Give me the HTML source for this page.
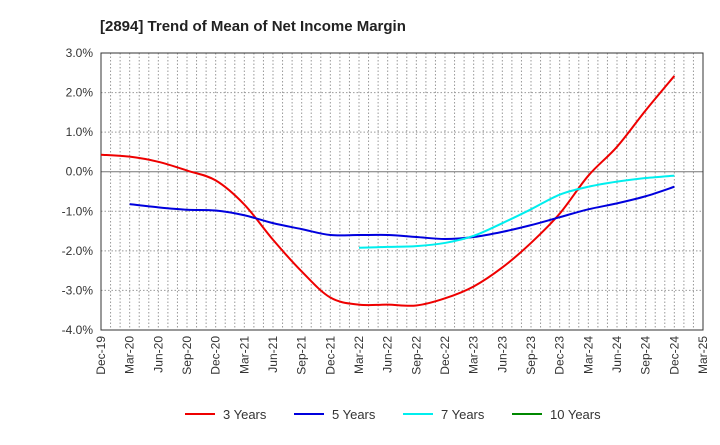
<!DOCTYPE html>
<html><head><meta charset="utf-8"><style>
body{margin:0;background:#fff;font-family:"Liberation Sans",sans-serif}
svg text{font-family:"Liberation Sans",sans-serif}
</style></head><body>
<svg id="c" width="720" height="440" xmlns="http://www.w3.org/2000/svg">
<text x="100" y="31" font-size="15" font-weight="bold" fill="#222">[2894]  Trend of Mean of Net Income Margin</text>
<g id="grid"></g><g id="axes"></g><g id="series"></g><g id="legend"></g>
</svg>
<script>
const xLabels=["Dec-19","Mar-20","Jun-20","Sep-20","Dec-20","Mar-21","Jun-21","Sep-21","Dec-21","Mar-22","Jun-22","Sep-22","Dec-22","Mar-23","Jun-23","Sep-23","Dec-23","Mar-24","Jun-24","Sep-24","Dec-24","Mar-25"];
const yTicks=[3,2,1,0,-1,-2,-3,-4];
const yTickLabels=["3.0%","2.0%","1.0%","0.0%","-1.0%","-2.0%","-3.0%","-4.0%"];
const seriesNames=["3 Years","5 Years","7 Years","10 Years"];
const seriesColors=["#ee0000","#0000dd","#00eeee","#008800"];
const y3=[0.43,0.38,0.25,0.03,-0.22,-0.83,-1.72,-2.52,-3.18,-3.36,-3.36,-3.38,-3.2,-2.9,-2.42,-1.8,-1.06,-0.1,0.63,1.55,2.42];
const y5=[null,-0.82,-0.9,-0.96,-0.98,-1.1,-1.3,-1.45,-1.6,-1.6,-1.6,-1.65,-1.7,-1.65,-1.52,-1.35,-1.15,-0.95,-0.8,-0.62,-0.38];
const y7=[null,null,null,null,null,null,null,null,null,-1.92,-1.9,-1.88,-1.8,-1.62,-1.3,-0.95,-0.58,-0.38,-0.25,-0.16,-0.1];
const y10=[];
const L=101,R=703,T=53,B=330,NS="http://www.w3.org/2000/svg";
const xs=i=>L+(R-L)*i/(xLabels.length-1);
const ys=v=>T+(B-T)*(3-v)/7;
function mk(tag,at,par){const e=document.createElementNS(NS,tag);for(const k in at)e.setAttribute(k,at[k]);document.getElementById(par).appendChild(e);return e;}
const nm=(xLabels.length-1)*3;
for(let m=1;m<nm;m++){const x=L+(R-L)*m/nm;
 const e=mk('line',{x1:x,x2:x,y1:T,y2:B,stroke:'#999','stroke-dasharray':'1.5,2','stroke-width':1},'grid');
 
 }
yTicks.forEach((v,i)=>{const y=ys(v);
 const e=mk('line',{x1:L,x2:R,y1:y,y2:y,stroke:v===0?'#777':'#999','stroke-dasharray':v===0?'':'1.5,2','stroke-width':1},'grid');
 
 
 const t=mk('text',{x:L-8,y:y+4,'text-anchor':'end','font-size':12,fill:'#333'},'axes');t.textContent=yTickLabels[i];
 
 });
const fr=mk('rect',{x:L,y:T,width:R-L,height:B-T,fill:'none',stroke:'#333'},'axes');


xLabels.forEach((l,i)=>{const x=xs(i);
 const t=mk('text',{transform:`translate(${x+4},${B+6}) rotate(-90)`,'text-anchor':'end','font-size':12,fill:'#333'},'axes');t.textContent=l;
 
 });
function path(arr){const p=[];arr.forEach((v,i)=>{if(v!==null&&v!==undefined)p.push([xs(i),ys(v)]);});
 if(p.length<2)return '';let d=`M${p[0][0]},${p[0][1]}`;
 for(let i=0;i<p.length-1;i++){const p0=p[Math.max(0,i-1)],p1=p[i],p2=p[i+1],p3=p[Math.min(p.length-1,i+2)];
  d+=` C${p1[0]+(p2[0]-p0[0])/6},${p1[1]+(p2[1]-p0[1])/6} ${p2[0]-(p3[0]-p1[0])/6},${p2[1]-(p3[1]-p1[1])/6} ${p2[0]},${p2[1]}`;}
 return d;}
[y3,y5,y7,y10].forEach((a,k)=>{const d=path(a);if(!d)return;
 const e=mk('path',{d:d,fill:'none',stroke:seriesColors[k],'stroke-width':2},'series');
 
 });
const lx=[185,294,403,512];
seriesNames.forEach((n,k)=>{
 const l=mk('line',{x1:lx[k],x2:lx[k]+30,y1:414,y2:414,stroke:seriesColors[k],'stroke-width':2},'legend');
 
 
 const t=mk('text',{x:lx[k]+38,y:419,'font-size':13,fill:'#333'},'legend');t.textContent=n;
 
 });
</script>
</body></html>
